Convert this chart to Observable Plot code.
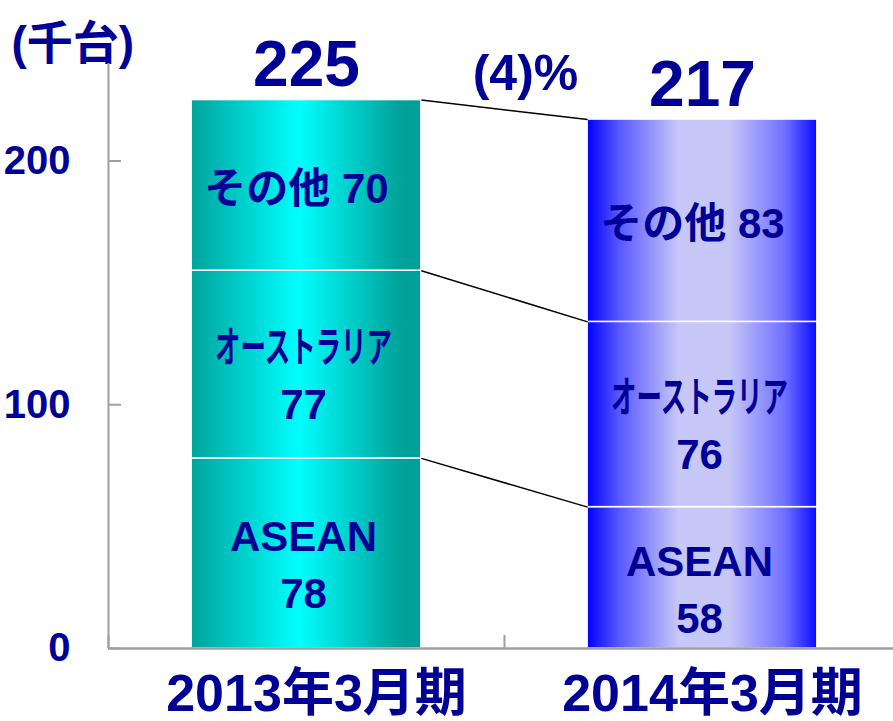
<!DOCTYPE html>
<html><head><meta charset="utf-8">
<script src="https://cdn.jsdelivr.net/npm/d3@7"></script>
<script src="https://cdn.jsdelivr.net/npm/@observablehq/plot@0.6"></script>
<style>html,body{margin:0;padding:0;background:#fff;overflow:hidden;} svg{display:block}</style>
</head><body><div id="chart"></div>
<script>
const categories = ["2013年3月期", "2014年3月期"];
const regions = ["ASEAN", "オーストラリア", "その他"];
const values2013 = [78, 77, 70];
const values2014 = [58, 76, 83];
const totals = [225, 217];
const changeLabel = "(4)%";
const yTicks = [0, 100, 200];
const unitLabel = "(千台)";

const series = [values2013, values2014];
const gradIds = ["grad2013", "grad2014"];
const gradStops = [
  [[0, "#00a39c"], [0.47, "#00ffff"], [0.9, "#00a39b"], [1, "#009e97"]],
  [[0, "#0000ff"], [0.14, "#5858ff"], [0.4, "#c8c8f8"], [0.62, "#c6c6f7"], [0.86, "#7070ff"], [1, "#0a0aff"]]
];
const barHalf = 0.29;
const navy = "#000096";
const font = "'Liberation Sans', Arial, 'Noto Sans CJK JP', sans-serif";

const segments = [];
const cumulative = [];
series.forEach((vals, i) => {
  let acc = 0;
  const cum = [];
  vals.forEach((v, j) => {
    segments.push({idx: i, region: regions[j], value: v, y1: acc, y2: acc + v,
      label: j === 2 ? `${regions[j]} ${v}` : `${regions[j]}\n${v}`, multi: j !== 2});
    acc += v;
    cum.push(acc);
  });
  cumulative.push(cum);
});
const links = cumulative[0].map((c, j) => ({x1: 0.5 + barHalf, x2: 1.5 - barHalf, y1: c, y2: cumulative[1][j]}));
const totalRows = totals.map((t, i) => ({x: i + 0.5, y: t, label: String(t)}));

const textStyle = {fill: navy, fontWeight: "bold", fontFamily: font};

const svg = Plot.plot({
  width: 893, height: 721,
  marginLeft: 108, marginRight: 0, marginTop: 63, marginBottom: 73,
  style: {fontFamily: font, background: "white"},
  x: {type: "linear", domain: [0, 2], range: [108, 900]},
  y: {domain: [0, 240]},
  marks: [
    ...categories.map((c, i) => Plot.rect(segments.filter(d => d.idx === i), {
      x1: d => d.idx + 0.5 - barHalf, x2: d => d.idx + 0.5 + barHalf,
      y1: "y1", y2: "y2", fill: `url(#${gradIds[i]})`, stroke: "white", strokeWidth: 1.5
    })),
    Plot.link(links, {x1: "x1", x2: "x2", y1: "y1", y2: "y2", stroke: "black", strokeWidth: 1.5}),
    Plot.text(segments.filter(d => d.multi), {x: d => d.idx + 0.5, y: d => (d.y1 + d.y2) / 2, text: "label",
      dx: -3, dy: 8, fontSize: 42, lineHeight: 1.36, ...textStyle}),
    Plot.text(segments.filter(d => !d.multi), {x: d => d.idx + 0.5, y: d => (d.y1 + d.y2) / 2, text: "label",
      dx: -10, dy: 4, fontSize: 42, ...textStyle}),
    Plot.text(totalRows, {x: "x", y: "y", text: "label", dy: -14, lineAnchor: "bottom", fontSize: 64, ...textStyle}),
    Plot.text([changeLabel], {x: 1, y: totals[0], text: d => d, dx: 21, dy: -10, lineAnchor: "bottom", fontSize: 50, ...textStyle}),
    Plot.text([unitLabel], {frameAnchor: "top-left", text: d => d, dx: -97, dy: -5, lineAnchor: "bottom", textAnchor: "start", fontSize: 46, ...textStyle}),
    Plot.ruleX([0], {stroke: "#a0a0a0", strokeWidth: 2}),
    Plot.ruleY([0], {stroke: "#a0a0a0", strokeWidth: 2.5}),
    Plot.axisY({ticks: yTicks, tickSize: -13, tickPadding: 51, stroke: "#a0a0a0", strokeWidth: 2,
      fill: navy, fontSize: 40, fontWeight: "bold", label: null, tickFormat: d => String(d)}),
    Plot.axisX({ticks: [0, 1, 2], tickSize: -13, stroke: "#a0a0a0", strokeWidth: 2, tickFormat: () => "", label: null}),
    Plot.axisX({ticks: categories.map((c, i) => i + 0.5), tickFormat: d => categories[Math.floor(d)],
      tickSize: 0, tickPadding: 26, dx: 10, fill: navy, fontSize: 52, fontWeight: "bold", label: null})
  ]
});

const defs = d3.select(svg).insert("defs", ":first-child");
gradIds.forEach((id, i) => {
  const g = defs.append("linearGradient").attr("id", id).attr("x1", "0").attr("x2", "1").attr("y1", "0").attr("y2", "0");
  gradStops[i].forEach(([o, c]) => g.append("stop").attr("offset", o).attr("stop-color", c));
});
d3.select(svg).selectAll("tspan").filter(function() { return this.textContent === "オーストラリア"; })
  .attr("textLength", 177).attr("lengthAdjust", "spacingAndGlyphs");

document.getElementById("chart").appendChild(svg);
</script>
</body></html>
